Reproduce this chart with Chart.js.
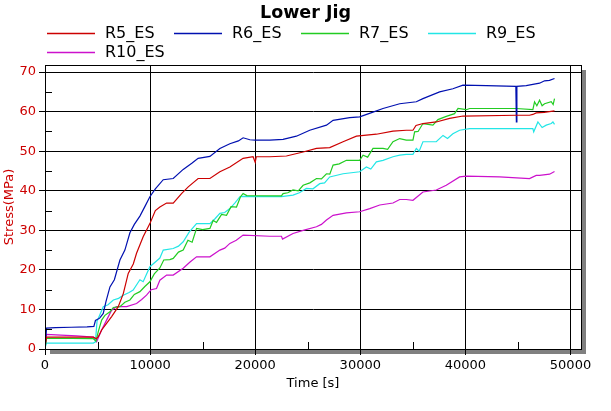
<!DOCTYPE html>
<html>
<head>
<meta charset="utf-8">
<title>Lower Jig</title>
<script src="https://cdn.jsdelivr.net/npm/chart.js@4.4.0/dist/chart.umd.min.js"></script>
<style>
  html, body { margin: 0; padding: 0; background: #fff; }
  #wrap { width: 611px; height: 411px; position: relative; }
</style>
</head>
<body>
<div id="wrap"><canvas id="jig-chart" width="611" height="411"></canvas></div>
<script>
// Series: [time s, stress MPa]
const seriesNames = ['R5_ES', 'R6_ES', 'R7_ES', 'R9_ES', 'R10_ES'];
const seriesColors = ['#cc0000', '#0010b0', '#22cc22', '#22e6e6', '#cc11cc'];

const r5 = [[0,0.5],[150,3.0],[2500,3.0],[4600,3.0],[4900,2.6],[5070,3.1],[5390,4.8],[5860,6.5],[6340,8.2],[6970,10.7],[7450,14],[7920,19.1],[8400,21.5],[8710,24.2],[9340,28.4],[9980,31.7],[10500,35],[10930,35.9],[11570,36.9],[12200,36.9],[12990,39.3],[13630,41],[14570,43.1],[15690,43.1],[16640,44.8],[17590,46],[18850,48.2],[19800,48.6],[20000,47.2],[20100,48.6],[21390,48.6],[22970,48.8],[24560,49.8],[25830,50.7],[27090,50.9],[28360,52.4],[29630,53.8],[31530,54.3],[33110,55.1],[34380,55.3],[35010,55.3],[35300,56.5],[35960,57],[37230,57.4],[38500,58.3],[39770,58.9],[44840,59.1],[46100,59.1],[46420,59.3],[46740,59.7],[47500,59.8],[48480,60.2]];

const r6 = [[0,0],[150,5.3],[1000,5.4],[2500,5.5],[4000,5.6],[4650,5.7],[4800,7.2],[5200,7.8],[5545,9.0],[5800,12],[6180,15.7],[6600,17.5],[7130,22.5],[7600,25],[8080,29.4],[8500,31.5],[9030,33.6],[9500,36],[9980,38.5],[10500,40.5],[11250,42.8],[12200,43.1],[13150,45.4],[14000,47],[14570,48.2],[15690,48.7],[16640,50.7],[17590,51.9],[18400,52.6],[18850,53.4],[19490,52.9],[20000,52.8],[21390,52.8],[22650,53],[23920,53.8],[25190,55.3],[26780,56.6],[27410,57.8],[28990,58.5],[29940,58.7],[31210,59.9],[32160,60.8],[33750,62],[35330,62.5],[35960,63.3],[37550,65],[38810,65.8],[39770,66.7],[42000,66.6],[44800,66.4],[44850,57.4],[44900,66.4],[45790,66.6],[46420,66.9],[47060,67.2],[47530,67.8],[48000,67.9],[48480,68.4]];

const r7 = [[0,0.5],[150,2.7],[2500,2.7],[4600,2.6],[4850,2.0],[5070,4.4],[5390,7.3],[5700,8.5],[6180,9.4],[6500,10.5],[7130,10.7],[7600,11.8],[8080,12.4],[8500,13.8],[9030,14.5],[9500,15.8],[9980,17],[10400,19],[10930,20.5],[11300,22.5],[11880,22.6],[12200,22.9],[12700,24.5],[13150,25],[13600,27.5],[14000,27],[14420,30.5],[15000,30.2],[15690,30.5],[16000,32.5],[16320,32],[16800,34],[17270,33.8],[17700,36],[18220,35.9],[18600,38.5],[18850,39.3],[19200,38.8],[22500,38.7],[22650,39.3],[23100,39.5],[23600,40.2],[24100,40],[24560,41.4],[25200,42],[25830,43.1],[26300,43],[26780,44.3],[27100,44.2],[27410,46.5],[28000,46.8],[28680,47.7],[29940,47.7],[30260,49],[30700,48.5],[31210,50.7],[32160,50.7],[32600,50.5],[33110,52.4],[33750,53.2],[34380,52.8],[35010,52.8],[35170,54.9],[35500,55],[35960,57],[36910,56.6],[37390,58],[38180,58.8],[38970,59.5],[39300,60.8],[40100,60.5],[40400,60.8],[44840,60.8],[46420,60.5],[46580,62.5],[46800,61.5],[47060,62.9],[47300,61.5],[47530,62],[48170,62.5],[48350,61.8],[48480,63.3]];

const r9 = [[0,0.3],[150,1.5],[2500,1.5],[4600,1.5],[4800,1.8],[4950,7],[5545,10.7],[6000,11.2],[6500,12.4],[7000,12.8],[7450,13.6],[8000,14.3],[8390,14.9],[9030,17.5],[9340,17],[9980,20.8],[10500,22],[10930,23],[11250,25],[12200,25.4],[12700,26],[13150,27.1],[13700,29.5],[14420,31.7],[15690,31.7],[16200,33],[16640,34.3],[17100,34.5],[17590,35.5],[18100,37],[18540,38.5],[18850,38.6],[21390,38.5],[22500,38.5],[23600,38.9],[24200,39.5],[24870,40.6],[25500,40.5],[26140,41.8],[26600,42],[27090,43.5],[28360,44.3],[29940,44.8],[30580,46],[31000,45.5],[31530,47.3],[32160,47.7],[33110,48.6],[33750,49],[34380,49.2],[35010,49.2],[35330,50.7],[35600,50],[35960,52.4],[37230,52.4],[37870,54],[38300,53.2],[38810,54.4],[39450,55.3],[40400,55.7],[46420,55.7],[46500,54.9],[46900,57.4],[47300,56],[47690,56.6],[48170,57],[48330,57.4],[48480,56.8]];

const r10 = [[0,1],[150,3.7],[1500,3.5],[3000,3.3],[4600,3.0],[4910,1.8],[5390,4.8],[5860,7.3],[6340,9.8],[6810,10.7],[7770,10.7],[8710,11.5],[9200,12.5],[9660,13.6],[10100,15],[10610,15.3],[10930,17.4],[11570,18.7],[12200,18.7],[13150,20.4],[13800,22],[14420,23.3],[15690,23.3],[16640,25],[17100,25.5],[17590,26.7],[18200,27.5],[18850,28.8],[21390,28.5],[22500,28.5],[22600,27.8],[23600,29.2],[24560,30],[25830,30.9],[26300,31.5],[26780,32.6],[27410,33.8],[28680,34.4],[29940,34.7],[30900,35.5],[31850,36.4],[33110,36.9],[33750,37.8],[34380,37.8],[35010,37.6],[35960,39.7],[37230,40.2],[38180,41.4],[39450,43.5],[40080,43.7],[43250,43.5],[46100,43.1],[46740,43.9],[47060,43.9],[48010,44.2],[48480,44.9]];

const seriesData = [r5, r6, r7, r9, r10];
const xTicks = [0, 10000, 20000, 30000, 40000, 50000];
const yTicks = [0, 10, 20, 30, 40, 50, 60, 70];
const xMinorTicks = [5000, 15000, 25000, 35000, 45000];
const yMinorTicks = [5, 15, 25, 35, 45, 55, 65];

const FONT = 'DejaVu Sans';
const AXIS_RED = '#cc0000';

// Grey drop shadow behind the plot box, white plot face
const frameShadow = {
    id: 'frameShadow',
    beforeDraw(chart) {
        const { ctx, chartArea: a } = chart;
        ctx.save();
        ctx.fillStyle = '#808080';
        ctx.fillRect(a.left + 5, a.top + 5, a.right - a.left, a.bottom - a.top);
        ctx.fillStyle = '#ffffff';
        ctx.fillRect(a.left, a.top, a.right - a.left, a.bottom - a.top);
        ctx.restore();
    }
};

// Frame, inward minor ticks and the legend
const frameAndLegend = {
    id: 'frameAndLegend',
    afterDraw(chart) {
        const { ctx, chartArea: a, scales } = chart;
        ctx.save();
        ctx.strokeStyle = '#000';
        ctx.lineWidth = 1;
        ctx.strokeRect(Math.round(a.left) + 0.5, Math.round(a.top) + 0.5,
            Math.round(a.right - a.left), Math.round(a.bottom - a.top));

        ctx.beginPath();
        xMinorTicks.forEach(v => {
            const px = Math.round(scales.x.getPixelForValue(v)) + 0.5;
            ctx.moveTo(px, a.bottom);
            ctx.lineTo(px, a.bottom - 7);
        });
        yMinorTicks.forEach(v => {
            const py = Math.round(scales.y.getPixelForValue(v)) + 0.5;
            ctx.moveTo(a.left, py);
            ctx.lineTo(a.left + 7, py);
        });
        ctx.stroke();

        // legend: 4 items on the first row, the rest below
        ctx.font = '16px "' + FONT + '"';
        ctx.textBaseline = 'middle';
        ctx.textAlign = 'left';
        chart.data.datasets.forEach((ds, i) => {
            const col = i % 4;
            const row = Math.floor(i / 4);
            const x0 = 47 + col * 127;
            const y0 = 33 + row * 19;
            ctx.strokeStyle = ds.borderColor;
            ctx.lineWidth = 1.5;
            ctx.beginPath();
            ctx.moveTo(x0, y0 + 0.5);
            ctx.lineTo(x0 + 48, y0 + 0.5);
            ctx.stroke();
            ctx.fillStyle = '#000';
            ctx.fillText(ds.label, x0 + 58, y0 + 1);
        });
        ctx.restore();
    }
};

function initJigChart() {
    const canvas = document.getElementById('jig-chart');
    const context = canvas.getContext('2d');

    const datasets = seriesData.map((pts, i) => ({
        label: seriesNames[i],
        data: pts.map(p => ({ x: p[0], y: p[1] })),
        borderColor: seriesColors[i],
        backgroundColor: seriesColors[i],
        borderWidth: 1.2,
        pointRadius: 0,
        tension: 0,
        fill: false
    }));

    new Chart(context, {
        type: 'line',
        data: { datasets: datasets },
        options: {
            responsive: false,
            animation: false,
            plugins: {
                legend: { display: false },
                tooltip: { enabled: false },
                title: {
                    display: true,
                    text: 'Lower Jig',
                    color: '#000',
                    font: { family: FONT, size: 17.5, weight: 'bold' },
                    padding: { top: 3, bottom: 41 }
                }
            },
            scales: {
                x: {
                    type: 'linear',
                    min: 0,
                    max: 51000,
                    afterFit: scale => { scale.height = 62; },
                    afterBuildTicks: scale => { scale.ticks = xTicks.map(v => ({ value: v })); },
                    ticks: {
                        color: '#000',
                        padding: 3,
                        maxRotation: 0,
                        autoSkip: false,
                        font: { family: FONT, size: 13 },
                        callback: v => String(v)
                    },
                    grid: { color: '#000', tickColor: '#000', tickLength: 6, lineWidth: 1 },
                    border: { display: true, color: '#000' },
                    title: {
                        display: true,
                        text: 'Time [s]',
                        color: '#000',
                        font: { family: FONT, size: 13 },
                        padding: { top: 0, bottom: 20 }
                    }
                },
                y: {
                    type: 'linear',
                    min: 0,
                    max: 71.8,
                    afterFit: scale => { scale.width = 45; },
                    afterBuildTicks: scale => { scale.ticks = yTicks.map(v => ({ value: v })); },
                    ticks: {
                        color: AXIS_RED,
                        padding: 3,
                        autoSkip: false,
                        font: { family: FONT, size: 13 }
                    },
                    grid: { color: '#000', tickColor: '#000', tickLength: 6, lineWidth: 1 },
                    border: { display: true, color: '#000' },
                    title: {
                        display: true,
                        text: 'Stress(MPa)',
                        color: AXIS_RED,
                        font: { family: FONT, size: 13 },
                        padding: { top: 2, bottom: 0 }
                    }
                },
                // empty right-hand margin so the title stays centred on the whole canvas
                yRightGap: {
                    type: 'linear',
                    position: 'right',
                    display: true,
                    afterFit: scale => { scale.width = 30; },
                    ticks: { display: false },
                    grid: { display: false, drawTicks: false },
                    border: { display: false }
                }
            }
        },
        plugins: [frameShadow, frameAndLegend]
    });
}

initJigChart();
</script>
</body>
</html>
